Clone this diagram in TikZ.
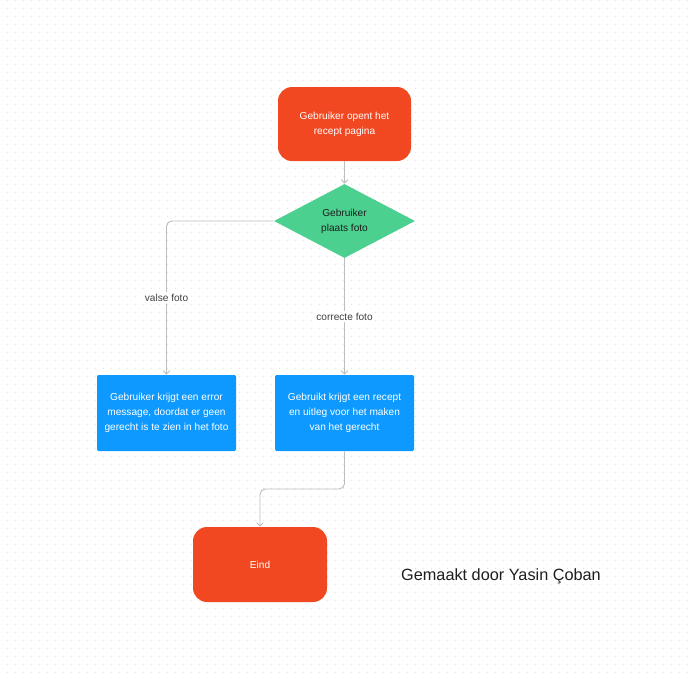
\documentclass[tikz,border=0pt]{standalone}
\usepackage{fontspec}
\setmainfont{Liberation Sans}
\usetikzlibrary{shapes.geometric,arrows.meta,patterns}
\definecolor{startred}{HTML}{F24822}
\definecolor{choicegreen}{HTML}{4BD08F}
\definecolor{stepblue}{HTML}{0D99FF}
\definecolor{wirec}{HTML}{BDBDBD}
\definecolor{dotc}{HTML}{E3E3E3}
\definecolor{inkc}{HTML}{1E1E1E}
\pgfdeclarepatternformonly{griddots}{\pgfpointorigin}{\pgfpoint{6pt}{6pt}}{\pgfpoint{6pt}{6pt}}{%
  \pgfpathrectangle{\pgfpointorigin}{\pgfpoint{1pt}{1pt}}\pgfusepath{fill}}
\tikzstyle{terminal}=[fill=startred, text=white, rounded corners=10.5pt, align=center, font=\fontsize{7.6}{11.25}\selectfont]
\tikzstyle{choice}=[diamond, fill=choicegreen, text=inkc, inner sep=0pt, minimum width=105.75pt, minimum height=55.5pt, align=center, font=\fontsize{7.6}{11.25}\selectfont]
\tikzstyle{stepbox}=[fill=stepblue, text=white, rounded corners=1pt, minimum width=104.25pt, minimum height=57pt, align=center, font=\fontsize{7.6}{11.25}\selectfont]
\tikzstyle{wire}=[draw=wirec, line width=0.7pt, rounded corners=4pt, -{Straight Barb[length=2.5pt,width=5pt]}]
\tikzstyle{tag}=[fill=white, text=inkc!85, inner sep=1.5pt, font=\fontsize{7.6}{9}\selectfont]

\begin{document}
\begin{tikzpicture}[x=0.75pt, y=-0.75pt]
%%position
\useasboundingbox (0,0) rectangle (693,672);
\fill[white] (0,0) rectangle (693,672);
%%dot grid
\fill[pattern=griddots, pattern color=dotc] (0,0) rectangle (693,672);
%%start
\node[terminal, minimum width=99.75pt, minimum height=55.5pt] (open) at (344.5,124) {Gebruiker opent het\\recept pagina};
%%decision
\node[choice] (photo) at (344.5,221) {Gebruiker\\plaats foto};
%%outcomes
\node[stepbox] (error) at (166.5,413) {Gebruiker krijgt een error\\message, doordat er geen\\gerecht is te zien in het foto};
\node[stepbox] (recipe) at (344.5,413) {Gebruikt krijgt een recept\\en uitleg voor het maken\\van het gerecht};
%%end
\node[terminal, minimum width=100.5pt, minimum height=56.25pt] (stop) at (260,564.5) {Eind};
%%bend points
\coordinate (mid) at (344.5,489);
%%wires
\draw[wire] (open) -- (photo);
\draw[wire] (photo.west) -| (error.north) node[pos=0.75, tag] {valse foto};
\draw[wire] (photo.south) -- (recipe.north) node[pos=0.5, tag] {correcte foto};
\draw[wire] (recipe.south) -- (mid) -| (stop.north);
%%name
\node[text=inkc, font=\fontsize{12.2}{14}\selectfont] (maker) at (501,576) {Gemaakt door Yasin Çoban};
\end{tikzpicture}
\end{document}
